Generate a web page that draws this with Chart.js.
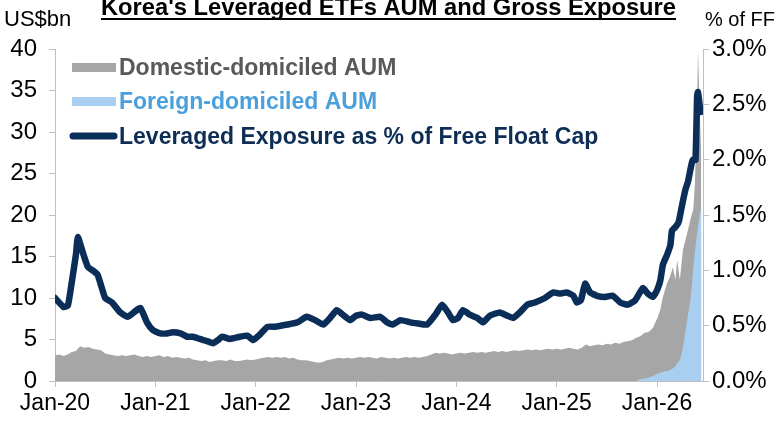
<!DOCTYPE html>
<html><head><meta charset="utf-8">
<script src="https://cdn.jsdelivr.net/npm/chart.js@4.4.1/dist/chart.umd.min.js"></script>
<style>html,body{margin:0;padding:0;background:#fff;} #wrap{width:779px;height:424px;position:relative;}</style>
</head><body><div id="wrap"><canvas id="c" width="779" height="424"></canvas></div>
<script>
// ---------- text ----------
const TITLE = "Korea's Leveraged ETFs AUM and Gross Exposure";
const LEFT_UNIT = 'US$bn';
const RIGHT_UNIT = '% of FF';
const seriesNames = ['Domestic-domiciled AUM', 'Foreign-domiciled AUM', 'Leveraged Exposure as % of Free Float Cap'];

// ---------- x axis ----------
const xTickLabels = ['Jan-20', 'Jan-21', 'Jan-22', 'Jan-23', 'Jan-24', 'Jan-25', 'Jan-26'];
const xTickDates  = ['2020-01-01', '2021-01-01', '2022-01-01', '2023-01-01', '2024-01-01', '2025-01-01', '2026-01-01'];
const axisStartDate = '2020-01-01';
const axisEndDate = '2026-06-16';

// ---------- AUM (US$bn), semi-monthly samples (1st & 16th of each month) ----------
const aumYears = [2020, 2021, 2022, 2023, 2024, 2025];
const domestic2020 = [3.1,3.2,3.0,3.2,3.5,3.6,4.2,4.0,4.1,3.9,3.8,3.7,3.3,3.2,3.1,3.0,3.1,3.0,3.1,3.2,3.0,2.9,3.0,2.9];
const domestic2021 = [3.0,3.1,2.9,3.0,2.8,2.9,2.8,2.7,2.8,2.6,2.5,2.4,2.5,2.3,2.4,2.5,2.5,2.4,2.6,2.4,2.4,2.5,2.6,2.5];
const domestic2022 = [2.6,2.7,2.8,2.9,2.8,2.9,2.8,2.9,2.7,2.8,2.6,2.5,2.5,2.4,2.3,2.2,2.3,2.5,2.6,2.7,2.8,2.7,2.8,2.7];
const domestic2023 = [2.8,2.9,2.8,2.9,2.8,2.7,2.9,2.8,2.7,2.8,2.7,2.8,2.9,2.8,2.9,2.8,2.9,3.0,3.2,3.4,3.3,3.4,3.3,3.2];
const domestic2024 = [3.3,3.4,3.3,3.4,3.5,3.4,3.5,3.4,3.5,3.6,3.5,3.6,3.5,3.6,3.7,3.6,3.7,3.8,3.7,3.8,3.7,3.8,3.9,3.8];
const domestic2025 = [3.9,3.8,3.9,4.0,3.9,3.8,4.0,4.4,4.2,4.3,4.4,4.3,4.5,4.4,4.6,4.5,4.7,4.8,4.9,5.2,5.2,5.5,5.5,5.8];
// 2026 (finer sampling)
const dates2026 = ['2026-01-04','2026-01-13','2026-01-22','2026-02-07','2026-02-17','2026-02-28','2026-03-07','2026-03-13','2026-03-23','2026-04-04','2026-04-13','2026-04-22','2026-05-01','2026-05-07','2026-05-11','2026-05-17','2026-05-23','2026-05-28','2026-06-04','2026-06-10'];
const domestic2026 = [6.8,7.6,9.0,10.6,11.2,12.2,10.4,12.5,9.7,11.8,11.0,10.2,9.7,8.2,6.9,8.3,12.7,21.3,13.0,6.0];

const foreignDates = ['2025-10-16','2025-11-01','2025-11-16','2025-12-01','2025-12-16','2026-01-04','2026-01-13','2026-01-22','2026-02-07','2026-02-17','2026-02-28','2026-03-07','2026-03-13','2026-03-23','2026-04-04','2026-04-13','2026-04-22','2026-05-01','2026-05-07','2026-05-11','2026-05-17','2026-05-23','2026-05-28','2026-06-04','2026-06-10'];
const foreignAUM   = [0.0,0.2,0.3,0.4,0.6,0.9,1.0,1.1,1.2,1.3,1.5,1.8,2.1,2.5,4.0,6.0,8.0,9.8,12.0,13.7,15.5,17.3,18.5,20.0,21.0];

// ---------- Leveraged exposure (% of free float cap) ----------
const exposureDates = ['2020-01-01','2020-02-01','2020-02-17','2020-03-01','2020-03-16','2020-03-23','2020-04-11','2020-04-29','2020-05-16','2020-06-04','2020-07-01','2020-07-25','2020-08-25','2020-09-22','2020-10-14','2020-11-07','2020-12-01','2020-12-22',
'2021-01-19','2021-02-13','2021-03-04','2021-04-01','2021-04-25','2021-05-16','2021-06-10','2021-07-07','2021-07-28','2021-08-16','2021-09-01','2021-09-28','2021-11-04','2021-12-01','2021-12-22',
'2022-01-16','2022-02-13','2022-03-10','2022-04-25','2022-06-01','2022-07-04','2022-08-04','2022-09-04','2022-09-28','2022-10-22','2022-11-13','2022-12-10',
'2023-01-01','2023-01-22','2023-02-22','2023-03-28','2023-04-22','2023-05-13','2023-06-10','2023-07-16','2023-08-13','2023-09-16','2023-10-16','2023-11-10','2023-12-01','2023-12-19',
'2024-01-07','2024-01-25','2024-02-19','2024-03-16','2024-04-07','2024-05-01','2024-06-07','2024-07-04','2024-07-25','2024-08-19','2024-09-16','2024-10-13','2024-11-19','2024-12-19',
'2025-01-13','2025-02-07','2025-03-01','2025-03-13','2025-03-28','2025-04-13','2025-05-01','2025-05-25','2025-06-25','2025-07-22','2025-08-19','2025-09-16','2025-10-13','2025-11-10','2025-11-28','2025-12-16',
'2026-01-01','2026-01-13','2026-01-22','2026-02-07','2026-02-19','2026-02-25','2026-03-10','2026-03-19','2026-04-01','2026-04-13','2026-04-22','2026-05-04','2026-05-10','2026-05-19','2026-05-25','2026-05-28','2026-06-07'];
const exposurePct = [0.75,0.67,0.68,0.89,1.14,1.30,1.16,1.03,1.00,0.96,0.75,0.71,0.62,0.58,0.62,0.66,0.53,0.46,
0.43,0.43,0.44,0.43,0.40,0.40,0.38,0.36,0.34,0.37,0.40,0.38,0.40,0.41,0.37,
0.42,0.49,0.49,0.51,0.53,0.58,0.55,0.51,0.57,0.64,0.60,0.55,
0.59,0.60,0.57,0.58,0.53,0.51,0.55,0.53,0.52,0.51,0.60,0.69,0.62,0.55,
0.57,0.64,0.60,0.57,0.53,0.59,0.62,0.59,0.57,0.62,0.69,0.71,0.75,0.80,
0.79,0.80,0.77,0.71,0.73,0.88,0.80,0.77,0.76,0.77,0.71,0.69,0.73,0.84,0.79,0.76,
0.82,0.91,1.05,1.14,1.23,1.36,1.40,1.44,1.59,1.73,1.80,1.95,2.00,2.00,2.58,2.61,2.43];

// ---------- styling ----------
const GRAY = '#a6a6a6', LBLUE = '#a9cff0', NAVY = '#0b2e59';
const TXT_GRAY = '#595959', TXT_BLUE = '#4ba0dc', TXT_NAVY = '#0e2d55';
const AXIS = '#bfbfbf';
const FONT = '"Liberation Sans", Arial, sans-serif';

// date -> months since Jan 2020
function toM(s) {
  const [y, m, d] = s.split('-').map(Number);
  return (y - 2020) * 12 + (m - 1) + (d - 1) / 30;
}
const domesticByYear = [domestic2020, domestic2021, domestic2022, domestic2023, domestic2024, domestic2025];
const domesticPoints = [];
aumYears.forEach((yr, yi) => {
  domesticByYear[yi].forEach((v, i) => {
    const mm = String(Math.floor(i / 2) + 1).padStart(2, '0');
    const dd = i % 2 ? '16' : '01';
    domesticPoints.push({ x: toM(`${yr}-${mm}-${dd}`), y: v });
  });
});
dates2026.forEach((d, i) => domesticPoints.push({ x: toM(d), y: domestic2026[i] }));
const foreignPoints = foreignDates.map((d, i) => ({ x: toM(d), y: foreignAUM[i] }));
const exposurePoints = exposureDates.map((d, i) => ({ x: toM(d), y: exposurePct[i] }));

const overlay = {
  id: 'overlay',
  afterDraw(chart) {
    const c = chart.ctx;
    c.save();
    c.fillStyle = '#000';
    // title
    c.font = `bold 21px ${FONT}`;
    let w = c.measureText(TITLE).width;
    const ts = 21 * 575 / w;
    c.font = `bold ${ts.toFixed(2)}px ${FONT}`;
    w = c.measureText(TITLE).width;
    c.textAlign = 'center'; c.textBaseline = 'alphabetic';
    c.fillText(TITLE, 388.5, 15);
    c.fillRect(388.5 - w / 2, 18, w, 2);
    // units
    c.font = `22px ${FONT}`;
    c.textAlign = 'left'; c.fillText(LEFT_UNIT, 4, 26);
    c.font = `20px ${FONT}`;
    c.textAlign = 'right'; c.fillText(RIGHT_UNIT, 775, 26);
    // legend
    const rows = [75, 109, 144];
    c.font = `bold 23px ${FONT}`;
    c.textAlign = 'left';
    c.fillStyle = GRAY; c.fillRect(72, rows[0] - 12, 44, 9);
    c.fillStyle = TXT_GRAY; c.fillText(seriesNames[0], 119, rows[0]);
    c.fillStyle = LBLUE; c.fillRect(72, rows[1] - 12, 44, 9);
    c.fillStyle = TXT_BLUE; c.fillText(seriesNames[1], 119, rows[1]);
    c.strokeStyle = NAVY; c.lineWidth = 7; c.lineCap = 'round';
    c.beginPath(); c.moveTo(73, rows[2] - 8); c.lineTo(114, rows[2] - 8); c.stroke();
    c.fillStyle = TXT_NAVY; c.fillText(seriesNames[2], 119, rows[2]);
    c.restore();
  }
};

const tickFont = { family: FONT, size: 23 };
const yTickFont = { family: FONT, size: 24 };
new Chart(document.getElementById('c'), {
  type: 'line',
  data: {
    datasets: [
      { label: seriesNames[2], data: exposurePoints, yAxisID: 'y2', borderColor: NAVY, borderWidth: 6.5,
        borderCapStyle: 'round', borderJoinStyle: 'round', pointRadius: 0, fill: false, tension: 0.15, order: 0 },
      { label: seriesNames[1], data: foreignPoints, yAxisID: 'y', backgroundColor: LBLUE, borderWidth: 0,
        pointRadius: 0, fill: 'origin', tension: 0, order: 1, stack: 'aum' },
      { label: seriesNames[0], data: domesticPoints, yAxisID: 'y', backgroundColor: GRAY, borderWidth: 0,
        pointRadius: 0, fill: 'origin', tension: 0, order: 2, stack: 'aum' }
    ]
  },
  options: {
    responsive: false, animation: false, devicePixelRatio: 1,
    layout: { padding: { top: 49, left: 0, right: 0, bottom: 0 } },
    plugins: { legend: { display: false }, tooltip: { enabled: false }, title: { display: false } },
    scales: {
      x: {
        type: 'linear', min: toM(axisStartDate), max: toM(axisEndDate),
        afterBuildTicks: s => { s.ticks = xTickDates.map(d => ({ value: toM(d) })); },
        afterFit: s => { s.height = 43; },
        grid: { drawOnChartArea: false, color: AXIS, tickLength: 6 },
        border: { color: AXIS },
        ticks: { font: tickFont, color: '#000', padding: 3, maxRotation: 0, autoSkip: false,
          callback: v => { const i = xTickDates.findIndex(d => Math.abs(toM(d) - v) < 1e-6); return i >= 0 ? xTickLabels[i] : ''; } }
      },
      y: {
        position: 'left', stacked: true, min: 0, max: 40,
        afterFit: s => { s.width = 55; },
        grid: { drawOnChartArea: false, color: AXIS, tickLength: 6 },
        border: { color: AXIS },
        ticks: { stepSize: 5, font: yTickFont, color: '#000', padding: 12 }
      },
      y2: {
        position: 'right', min: 0, max: 3,
        afterFit: s => { s.width = 76; },
        grid: { drawOnChartArea: false, color: AXIS, tickLength: 6 },
        border: { color: AXIS },
        ticks: { stepSize: 0.5, font: yTickFont, color: '#000', padding: 3, callback: v => v.toFixed(1) + '%' }
      }
    }
  },
  plugins: [overlay]
});
</script>
</body></html>
